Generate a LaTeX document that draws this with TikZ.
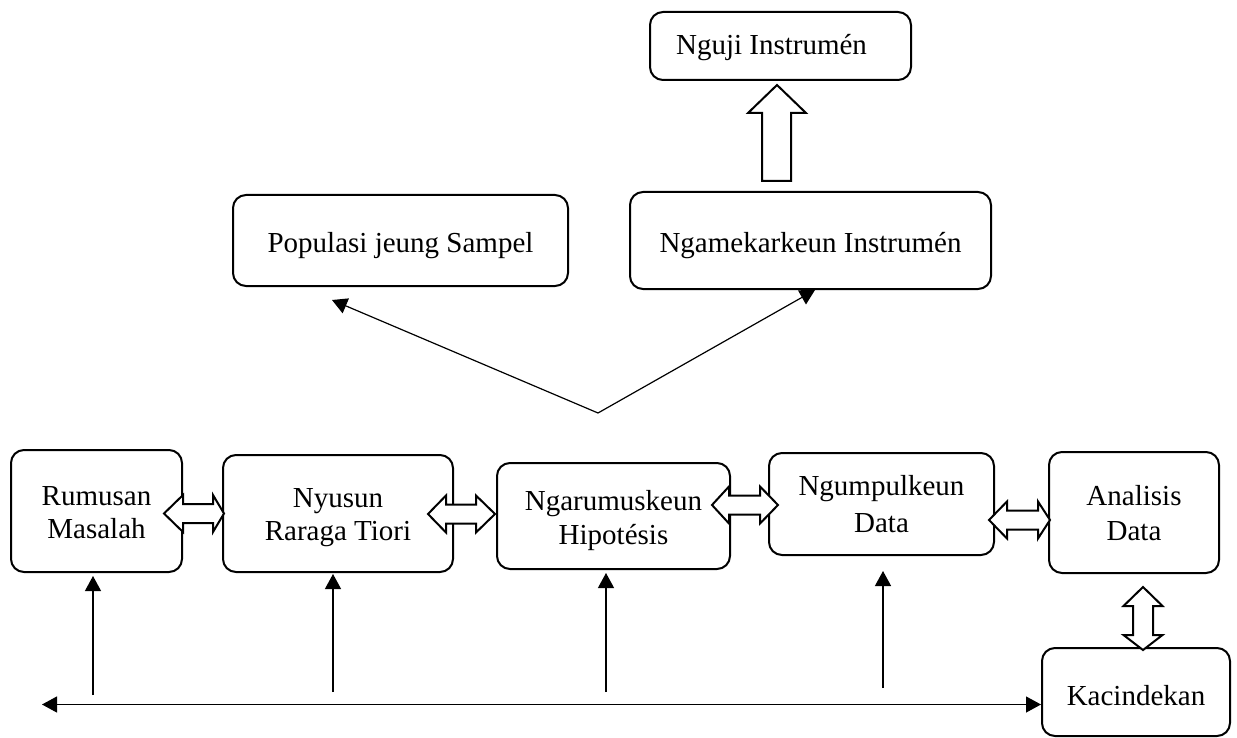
\documentclass[tikz,border=0pt]{standalone}
\usepackage{fontspec}
\usepackage{graphicx}
\setmainfont{Liberation Serif}
\usetikzlibrary{arrows.meta}
\newcommand{\hdbl}[5]{%
  \draw[blockarrow] ({#1},{#5}) -- ({#2},{#5-18.5}) -- ({#2},{#5-9.5}) -- ({#3},{#5-9.5}) -- ({#3},{#5-18.5}) -- ({#4},{#5}) -- ({#3},{#5+18.5}) -- ({#3},{#5+9.5}) -- ({#2},{#5+9.5}) -- ({#2},{#5+18.5}) -- cycle;}
% one line of text, baseline #1 pt below the node centre
\newcommand{\oneline}[2]{\makebox[0pt]{\raisebox{-#1pt}[0pt][0pt]{#2}}}
% two lines, baselines #1 and #2 pt below the node centre
\newcommand{\twolines}[4]{\makebox[0pt]{\raisebox{-#1pt}[0pt][0pt]{#3}}\makebox[0pt]{\raisebox{-#2pt}[0pt][0pt]{#4}}}
\begin{document}
\begin{tikzpicture}[x=1pt,y=-1pt,
  box/.style={draw, line width=2pt, rounded corners=13pt, inner sep=0pt, font=\fontsize{29}{33}\selectfont},
  conn/.style={line width=1.2pt, -{Triangle[length=15pt,width=16pt]}},
  dconn/.style={line width=1.2pt, {Triangle[length=15pt,width=16pt]}-{Triangle[length=15pt,width=16pt]}},
  blockarrow/.style={draw, fill=white, line width=2pt, line join=miter}]
\useasboundingbox (0,0) rectangle (1237,738);

% top boxes
\node[box, minimum width=261pt, minimum height=68pt] (nguji) at (780.5,46)
  {\makebox[0pt]{\raisebox{-9pt}[0pt][0pt]{Nguji Instrumén}\kern18pt}};
\node[box, minimum width=335pt, minimum height=91pt] (pop) at (400.5,240.5) {\oneline{11.5}{Populasi jeung Sampel}};
\node[box, minimum width=361pt, minimum height=97pt] (ngam) at (810.5,240.5) {\oneline{11.5}{Ngamekarkeun Instrumén}};

% bottom boxes
\node[box, minimum width=171pt, minimum height=122pt] (rum) at (96.5,511) {\twolines{-6}{27}{Rumusan}{Masalah}};
\node[box, minimum width=230pt, minimum height=117pt] (nyu) at (338,513.5) {\twolines{-6.5}{26.5}{Nyusun}{Raraga Tiori}};
\node[box, minimum width=233pt, minimum height=106pt] (nga) at (613.5,516) {\twolines{-6}{28}{Ngarumuskeun}{Hipotésis}};
\node[box, minimum width=225pt, minimum height=102pt] (ngu) at (881.5,504) {\twolines{-9}{28}{Ngumpulkeun}{Data}};
\node[box, minimum width=170pt, minimum height=121pt] (ana) at (1134,512.5) {\twolines{-7.5}{27.5}{Analisis}{Data}};
\node[box, minimum width=188pt, minimum height=88pt] (kac) at (1136,692) {\oneline{13}{Kacindekan}};

% up block arrow from Ngamekarkeun to Nguji
\draw[blockarrow] (777,85) -- (806,113) -- (791,113) -- (791,181) -- (762,181) -- (762,113) -- (748,113) -- cycle;

% horizontal double block arrows
\hdbl{164}{183}{213}{224}{513.5}
\hdbl{428}{446}{476}{495}{514}
\hdbl{712}{729}{760}{778}{505}
\hdbl{989}{1007}{1038}{1050}{520}
% vertical double block arrow (Analisis <-> Kacindekan)
\draw[blockarrow] (1143,587) -- (1162.5,606) -- (1153,606) -- (1153,635) -- (1162.5,635) -- (1143,650) -- (1123.5,635) -- (1133,635) -- (1133,606) -- (1123.5,606) -- cycle;

% V arrows
\coordinate (v) at (598,413);
\coordinate (popTip) at (332,300);
\coordinate (ngamTip) at (815,290);
\draw[conn] (v) -- (popTip);
\draw[conn] (v) -- (ngamTip);

% bottom line
\coordinate (lt) at (42,704.5);
\draw[dconn] (lt) -- (kac.west |- lt);

% vertical thin arrows
\coordinate (b1) at (93,695);
\coordinate (b2) at (333,692);
\coordinate (b3) at (606,692);
\coordinate (b4) at (883,688);
\draw[conn, shorten >=3pt] (b1) -- (b1 |- rum.south);
\draw[conn, shorten >=1pt] (b2) -- (b2 |- nyu.south);
\draw[conn, shorten >=3pt] (b3) -- (b3 |- nga.south);
\draw[conn, shorten >=15pt] (b4) -- (b4 |- ngu.south);
\end{tikzpicture}
\end{document}
